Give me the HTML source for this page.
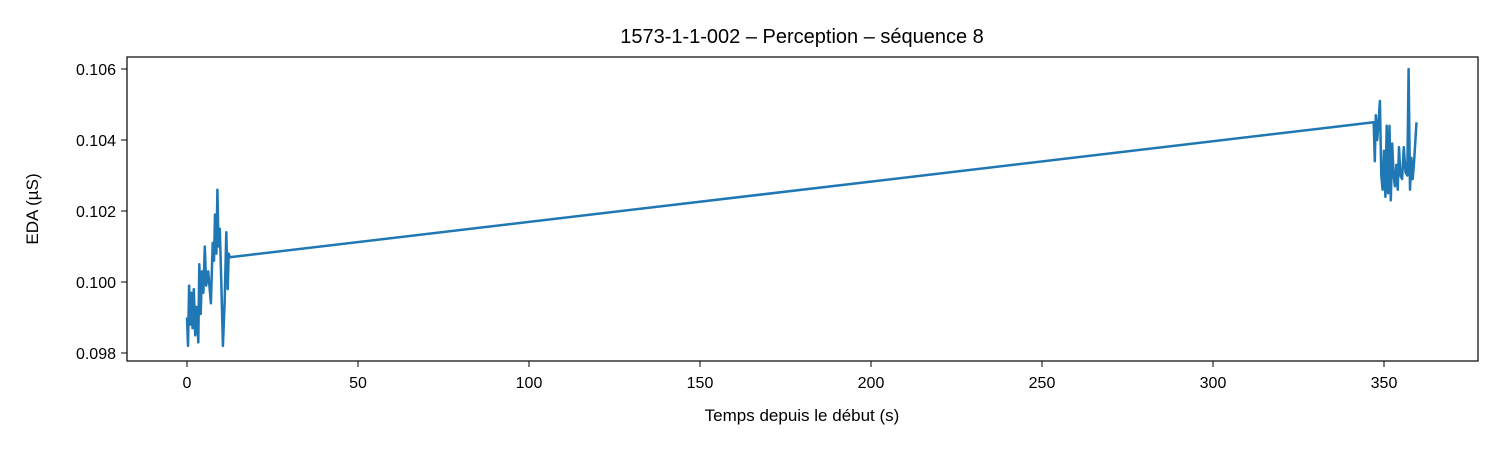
<!DOCTYPE html>
<html><head><meta charset="utf-8"><style>
body{margin:0;background:#fff;}
svg text{font-family:"Liberation Sans","DejaVu Sans",sans-serif;fill:#000;}
</style></head><body>
<svg id="chart" width="1500" height="450" xmlns="http://www.w3.org/2000/svg">
<rect width="1500" height="450" fill="#fff"/>
<text x="802" y="43" font-size="20" text-anchor="middle">1573-1-1-002 – Perception – séquence 8</text>
<text x="802" y="421" font-size="17" text-anchor="middle">Temps depuis le début (s)</text>
<text transform="translate(38,209) rotate(-90)" font-size="17" text-anchor="middle">EDA (µS)</text>
<g id="xt"></g><g id="yt"></g>
<polyline id="line" fill="none" stroke="#1f77b4" stroke-width="2.5" stroke-linejoin="round"/>
<rect x="127" y="57" width="1351" height="304" fill="none" stroke="#000" stroke-width="1.2"/>
</svg>
<script>
const times=[0,0.3,0.6,0.9,1.3,1.6,2,2.4,2.8,3.3,3.6,4,4.4,4.8,5.2,5.6,6.2,7,7.5,7.9,8.2,8.6,8.9,9.2,9.6,10,10.5,11,11.5,11.9,12.2,12.5,
347,347.3,347.6,348,348.4,348.8,349.2,349.6,350,350.4,350.8,351.2,351.6,352,352.4,352.8,353.2,353.6,354,354.4,354.8,355.3,355.8,356.3,356.8,357.2,357.6,358,358.4,358.8,359.5];
const values=[0.0990,0.0982,0.0999,0.0988,0.0997,0.0987,0.0998,0.0985,0.0993,0.0983,0.1005,0.0991,0.1003,0.0997,0.1010,0.0999,0.1003,0.0994,0.1011,0.1006,0.1019,0.1008,0.1026,0.1010,0.1015,0.1001,0.0982,0.0994,0.1014,0.0998,0.1008,0.1007,
0.1045,0.1034,0.1047,0.1040,0.1045,0.1051,0.1030,0.1026,0.1037,0.1024,0.1044,0.1025,0.1044,0.1023,0.1039,0.1030,0.1027,0.1033,0.1026,0.1038,0.1030,0.1029,0.1038,0.1031,0.1030,0.1060,0.1026,0.1035,0.1029,0.1034,0.1045];
const xTicks=[0,50,100,150,200,250,300,350];
const yTicks=[0.098,0.100,0.102,0.104,0.106];
const X=t=>187+t*(1384-187)/350;
const Y=v=>353-(v-0.098)*35500;
const NS="http://www.w3.org/2000/svg";
document.getElementById('line').setAttribute('points',times.map((t,i)=>X(t).toFixed(1)+','+Y(values[i]).toFixed(1)).join(' '));
const xt=document.getElementById('xt');
xTicks.forEach(t=>{
 const l=document.createElementNS(NS,'line');l.setAttribute('x1',X(t));l.setAttribute('x2',X(t));l.setAttribute('y1',361);l.setAttribute('y2',367);l.setAttribute('stroke','#000');
 
 
 xt.appendChild(l);
 const s=document.createElementNS(NS,'text');s.setAttribute('x',X(t));s.setAttribute('y',388);s.setAttribute('font-size','16');s.setAttribute('text-anchor','middle');s.textContent=t;
 
 
 xt.appendChild(s);
});
const yt=document.getElementById('yt');
yTicks.forEach(v=>{
 const l=document.createElementNS(NS,'line');l.setAttribute('x1',121);l.setAttribute('x2',127);l.setAttribute('y1',Y(v));l.setAttribute('y2',Y(v));l.setAttribute('stroke','#000');
 
 
 yt.appendChild(l);
 const s=document.createElementNS(NS,'text');s.setAttribute('x',116);s.setAttribute('y',Y(v)+6);s.setAttribute('font-size','16');s.setAttribute('text-anchor','end');s.textContent=v.toFixed(3);
 
 
 yt.appendChild(s);
});
</script>
</body></html>
